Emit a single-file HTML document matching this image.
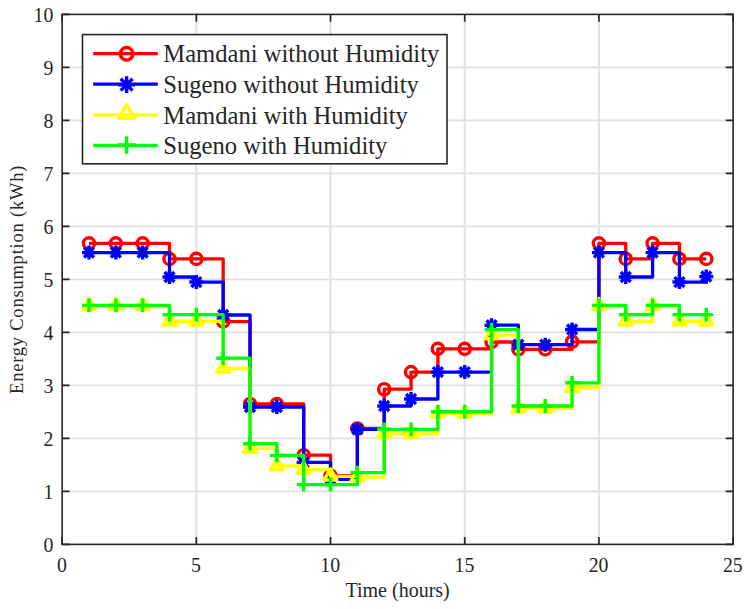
<!DOCTYPE html>
<html><head><meta charset="utf-8"><title>Energy Consumption</title>
<style>html,body{margin:0;padding:0;background:#fff;}body{width:749px;height:609px;overflow:hidden;}svg{display:block;}text{font-family:"Liberation Serif",serif;fill:#262626;}</style>
</head><body>
<svg width="749" height="609" viewBox="0 0 749 609">
<rect x="0" y="0" width="749" height="609" fill="#ffffff"/>
<path d="M196.34 14.40V544.40 M330.53 14.40V544.40 M464.72 14.40V544.40 M598.91 14.40V544.40 M62.15 491.40H733.10 M62.15 438.40H733.10 M62.15 385.40H733.10 M62.15 332.40H733.10 M62.15 279.40H733.10 M62.15 226.40H733.10 M62.15 173.40H733.10 M62.15 120.40H733.10 M62.15 67.40H733.10" stroke="#e0e0e0" stroke-width="1.9" fill="none"/>
<g>
<path d="M88.99 243.36 L115.83 243.36 L115.83 243.36 L142.66 243.36 L142.66 243.36 L169.50 243.36 L169.50 258.89 L196.34 258.89 L196.34 258.89 L223.18 258.89 L223.18 321.53 L250.02 321.53 L250.02 404.00 L276.85 404.00 L276.85 404.00 L303.69 404.00 L303.69 455.20 L330.53 455.20 L330.53 475.76 L357.37 475.76 L357.37 428.49 L384.21 428.49 L384.21 389.22 L411.04 389.22 L411.04 372.10 L437.88 372.10 L437.88 348.83 L464.72 348.83 L464.72 348.83 L491.56 348.83 L491.56 341.99 L518.40 341.99 L518.40 349.31 L545.23 349.31 L545.23 349.31 L572.07 349.31 L572.07 341.78 L598.91 341.78 L598.91 243.36 L625.75 243.36 L625.75 258.89 L652.59 258.89 L652.59 243.36 L679.42 243.36 L679.42 258.89 L706.26 258.89 L706.26 258.89" fill="none" stroke="#ff0000" stroke-width="3.30" stroke-linejoin="round"/>
<circle cx="88.99" cy="243.36" r="5.60" fill="none" stroke="#ff0000" stroke-width="3.40"/>
<circle cx="115.83" cy="243.36" r="5.60" fill="none" stroke="#ff0000" stroke-width="3.40"/>
<circle cx="142.66" cy="243.36" r="5.60" fill="none" stroke="#ff0000" stroke-width="3.40"/>
<circle cx="169.50" cy="258.89" r="5.60" fill="none" stroke="#ff0000" stroke-width="3.40"/>
<circle cx="196.34" cy="258.89" r="5.60" fill="none" stroke="#ff0000" stroke-width="3.40"/>
<circle cx="223.18" cy="321.53" r="5.60" fill="none" stroke="#ff0000" stroke-width="3.40"/>
<circle cx="250.02" cy="404.00" r="5.60" fill="none" stroke="#ff0000" stroke-width="3.40"/>
<circle cx="276.85" cy="404.00" r="5.60" fill="none" stroke="#ff0000" stroke-width="3.40"/>
<circle cx="303.69" cy="455.20" r="5.60" fill="none" stroke="#ff0000" stroke-width="3.40"/>
<circle cx="330.53" cy="475.76" r="5.60" fill="none" stroke="#ff0000" stroke-width="3.40"/>
<circle cx="357.37" cy="428.49" r="5.60" fill="none" stroke="#ff0000" stroke-width="3.40"/>
<circle cx="384.21" cy="389.22" r="5.60" fill="none" stroke="#ff0000" stroke-width="3.40"/>
<circle cx="411.04" cy="372.10" r="5.60" fill="none" stroke="#ff0000" stroke-width="3.40"/>
<circle cx="437.88" cy="348.83" r="5.60" fill="none" stroke="#ff0000" stroke-width="3.40"/>
<circle cx="464.72" cy="348.83" r="5.60" fill="none" stroke="#ff0000" stroke-width="3.40"/>
<circle cx="491.56" cy="341.99" r="5.60" fill="none" stroke="#ff0000" stroke-width="3.40"/>
<circle cx="518.40" cy="349.31" r="5.60" fill="none" stroke="#ff0000" stroke-width="3.40"/>
<circle cx="545.23" cy="349.31" r="5.60" fill="none" stroke="#ff0000" stroke-width="3.40"/>
<circle cx="572.07" cy="341.78" r="5.60" fill="none" stroke="#ff0000" stroke-width="3.40"/>
<circle cx="598.91" cy="243.36" r="5.60" fill="none" stroke="#ff0000" stroke-width="3.40"/>
<circle cx="625.75" cy="258.89" r="5.60" fill="none" stroke="#ff0000" stroke-width="3.40"/>
<circle cx="652.59" cy="243.36" r="5.60" fill="none" stroke="#ff0000" stroke-width="3.40"/>
<circle cx="679.42" cy="258.89" r="5.60" fill="none" stroke="#ff0000" stroke-width="3.40"/>
<circle cx="706.26" cy="258.89" r="5.60" fill="none" stroke="#ff0000" stroke-width="3.40"/>
</g>
<g>
<path d="M88.99 252.58 L115.83 252.58 L115.83 252.58 L142.66 252.58 L142.66 252.58 L169.50 252.58 L169.50 277.01 L196.34 277.01 L196.34 282.05 L223.18 282.05 L223.18 315.02 L250.02 315.02 L250.02 407.02 L276.85 407.02 L276.85 407.02 L303.69 407.02 L303.69 462.41 L330.53 462.41 L330.53 479.47 L357.37 479.47 L357.37 429.28 L384.21 429.28 L384.21 406.02 L411.04 406.02 L411.04 399.02 L437.88 399.02 L437.88 372.10 L464.72 372.10 L464.72 372.10 L491.56 372.10 L491.56 325.19 L518.40 325.19 L518.40 344.70 L545.23 344.70 L545.23 344.70 L572.07 344.70 L572.07 329.49 L598.91 329.49 L598.91 252.58 L625.75 252.58 L625.75 277.01 L652.59 277.01 L652.59 252.58 L679.42 252.58 L679.42 282.05 L706.26 282.05 L706.26 276.49" fill="none" stroke="#0000ff" stroke-width="3.30" stroke-linejoin="round"/>
<path d="M88.99 245.58V259.58 M81.99 252.58H95.99 M84.04 247.63L93.94 257.53 M84.04 257.53L93.94 247.63" fill="none" stroke="#0000ff" stroke-width="3.40"/>
<path d="M115.83 245.58V259.58 M108.83 252.58H122.83 M110.88 247.63L120.78 257.53 M110.88 257.53L120.78 247.63" fill="none" stroke="#0000ff" stroke-width="3.40"/>
<path d="M142.66 245.58V259.58 M135.66 252.58H149.66 M137.71 247.63L147.61 257.53 M137.71 257.53L147.61 247.63" fill="none" stroke="#0000ff" stroke-width="3.40"/>
<path d="M169.50 270.01V284.01 M162.50 277.01H176.50 M164.55 272.07L174.45 281.96 M164.55 281.96L174.45 272.07" fill="none" stroke="#0000ff" stroke-width="3.40"/>
<path d="M196.34 275.05V289.05 M189.34 282.05H203.34 M191.39 277.10L201.29 287.00 M191.39 287.00L201.29 277.10" fill="none" stroke="#0000ff" stroke-width="3.40"/>
<path d="M223.18 308.02V322.02 M216.18 315.02H230.18 M218.23 310.07L228.13 319.97 M218.23 319.97L228.13 310.07" fill="none" stroke="#0000ff" stroke-width="3.40"/>
<path d="M250.02 400.02V414.02 M243.02 407.02H257.02 M245.07 402.07L254.97 411.97 M245.07 411.97L254.97 402.07" fill="none" stroke="#0000ff" stroke-width="3.40"/>
<path d="M276.85 400.02V414.02 M269.85 407.02H283.85 M271.90 402.07L281.80 411.97 M271.90 411.97L281.80 402.07" fill="none" stroke="#0000ff" stroke-width="3.40"/>
<path d="M303.69 455.41V469.41 M296.69 462.41H310.69 M298.74 457.46L308.64 467.36 M298.74 467.36L308.64 457.46" fill="none" stroke="#0000ff" stroke-width="3.40"/>
<path d="M330.53 472.47V486.47 M323.53 479.47H337.53 M325.58 474.53L335.48 484.42 M325.58 484.42L335.48 474.53" fill="none" stroke="#0000ff" stroke-width="3.40"/>
<path d="M357.37 422.28V436.28 M350.37 429.28H364.37 M352.42 424.33L362.32 434.23 M352.42 434.23L362.32 424.33" fill="none" stroke="#0000ff" stroke-width="3.40"/>
<path d="M384.21 399.02V413.02 M377.21 406.02H391.21 M379.26 401.07L389.16 410.97 M379.26 410.97L389.16 401.07" fill="none" stroke="#0000ff" stroke-width="3.40"/>
<path d="M411.04 392.02V406.02 M404.04 399.02H418.04 M406.09 394.07L415.99 403.97 M406.09 403.97L415.99 394.07" fill="none" stroke="#0000ff" stroke-width="3.40"/>
<path d="M437.88 365.10V379.10 M430.88 372.10H444.88 M432.93 367.15L442.83 377.05 M432.93 377.05L442.83 367.15" fill="none" stroke="#0000ff" stroke-width="3.40"/>
<path d="M464.72 365.10V379.10 M457.72 372.10H471.72 M459.77 367.15L469.67 377.05 M459.77 377.05L469.67 367.15" fill="none" stroke="#0000ff" stroke-width="3.40"/>
<path d="M491.56 318.19V332.19 M484.56 325.19H498.56 M486.61 320.24L496.51 330.14 M486.61 330.14L496.51 320.24" fill="none" stroke="#0000ff" stroke-width="3.40"/>
<path d="M518.40 337.70V351.70 M511.40 344.70H525.40 M513.45 339.75L523.35 349.65 M513.45 349.65L523.35 339.75" fill="none" stroke="#0000ff" stroke-width="3.40"/>
<path d="M545.23 337.70V351.70 M538.23 344.70H552.23 M540.28 339.75L550.18 349.65 M540.28 349.65L550.18 339.75" fill="none" stroke="#0000ff" stroke-width="3.40"/>
<path d="M572.07 322.49V336.49 M565.07 329.49H579.07 M567.12 324.54L577.02 334.43 M567.12 334.43L577.02 324.54" fill="none" stroke="#0000ff" stroke-width="3.40"/>
<path d="M598.91 245.58V259.58 M591.91 252.58H605.91 M593.96 247.63L603.86 257.53 M593.96 257.53L603.86 247.63" fill="none" stroke="#0000ff" stroke-width="3.40"/>
<path d="M625.75 270.01V284.01 M618.75 277.01H632.75 M620.80 272.07L630.70 281.96 M620.80 281.96L630.70 272.07" fill="none" stroke="#0000ff" stroke-width="3.40"/>
<path d="M652.59 245.58V259.58 M645.59 252.58H659.59 M647.64 247.63L657.54 257.53 M647.64 257.53L657.54 247.63" fill="none" stroke="#0000ff" stroke-width="3.40"/>
<path d="M679.42 275.05V289.05 M672.42 282.05H686.42 M674.47 277.10L684.37 287.00 M674.47 287.00L684.37 277.10" fill="none" stroke="#0000ff" stroke-width="3.40"/>
<path d="M706.26 269.49V283.49 M699.26 276.49H713.26 M701.31 271.54L711.21 281.43 M701.31 281.43L711.21 271.54" fill="none" stroke="#0000ff" stroke-width="3.40"/>
</g>
<g>
<path d="M88.99 305.90 L115.83 305.90 L115.83 305.90 L142.66 305.90 L142.66 305.90 L169.50 305.90 L169.50 321.27 L196.34 321.27 L196.34 321.27 L223.18 321.27 L223.18 368.49 L250.02 368.49 L250.02 448.47 L276.85 448.47 L276.85 466.01 L303.69 466.01 L303.69 469.72 L330.53 469.72 L330.53 476.29 L357.37 476.29 L357.37 477.09 L384.21 477.09 L384.21 434.00 L411.04 434.00 L411.04 434.00 L437.88 434.00 L437.88 413.49 L464.72 413.49 L464.72 413.49 L491.56 413.49 L491.56 335.05 L518.40 335.05 L518.40 408.40 L545.23 408.40 L545.23 408.40 L572.07 408.40 L572.07 387.68 L598.91 387.68 L598.91 305.90 L625.75 305.90 L625.75 321.27 L652.59 321.27 L652.59 305.90 L679.42 305.90 L679.42 321.27 L706.26 321.27 L706.26 321.27" fill="none" stroke="#ffff00" stroke-width="3.30" stroke-linejoin="round"/>
<path d="M88.99 298.57L95.34 309.57L82.64 309.57Z" fill="none" stroke="#ffff00" stroke-width="3.40" stroke-linejoin="round"/>
<path d="M115.83 298.57L122.18 309.57L109.47 309.57Z" fill="none" stroke="#ffff00" stroke-width="3.40" stroke-linejoin="round"/>
<path d="M142.66 298.57L149.02 309.57L136.31 309.57Z" fill="none" stroke="#ffff00" stroke-width="3.40" stroke-linejoin="round"/>
<path d="M169.50 313.94L175.85 324.94L163.15 324.94Z" fill="none" stroke="#ffff00" stroke-width="3.40" stroke-linejoin="round"/>
<path d="M196.34 313.94L202.69 324.94L189.99 324.94Z" fill="none" stroke="#ffff00" stroke-width="3.40" stroke-linejoin="round"/>
<path d="M223.18 361.16L229.53 372.16L216.83 372.16Z" fill="none" stroke="#ffff00" stroke-width="3.40" stroke-linejoin="round"/>
<path d="M250.02 441.14L256.37 452.14L243.66 452.14Z" fill="none" stroke="#ffff00" stroke-width="3.40" stroke-linejoin="round"/>
<path d="M276.85 458.68L283.21 469.68L270.50 469.68Z" fill="none" stroke="#ffff00" stroke-width="3.40" stroke-linejoin="round"/>
<path d="M303.69 462.39L310.04 473.39L297.34 473.39Z" fill="none" stroke="#ffff00" stroke-width="3.40" stroke-linejoin="round"/>
<path d="M330.53 468.96L336.88 479.96L324.18 479.96Z" fill="none" stroke="#ffff00" stroke-width="3.40" stroke-linejoin="round"/>
<path d="M357.37 469.76L363.72 480.76L351.02 480.76Z" fill="none" stroke="#ffff00" stroke-width="3.40" stroke-linejoin="round"/>
<path d="M384.21 426.67L390.56 437.67L377.85 437.67Z" fill="none" stroke="#ffff00" stroke-width="3.40" stroke-linejoin="round"/>
<path d="M411.04 426.67L417.40 437.67L404.69 437.67Z" fill="none" stroke="#ffff00" stroke-width="3.40" stroke-linejoin="round"/>
<path d="M437.88 406.16L444.23 417.16L431.53 417.16Z" fill="none" stroke="#ffff00" stroke-width="3.40" stroke-linejoin="round"/>
<path d="M464.72 406.16L471.07 417.16L458.37 417.16Z" fill="none" stroke="#ffff00" stroke-width="3.40" stroke-linejoin="round"/>
<path d="M491.56 327.72L497.91 338.72L485.21 338.72Z" fill="none" stroke="#ffff00" stroke-width="3.40" stroke-linejoin="round"/>
<path d="M518.40 401.07L524.75 412.07L512.04 412.07Z" fill="none" stroke="#ffff00" stroke-width="3.40" stroke-linejoin="round"/>
<path d="M545.23 401.07L551.59 412.07L538.88 412.07Z" fill="none" stroke="#ffff00" stroke-width="3.40" stroke-linejoin="round"/>
<path d="M572.07 380.35L578.42 391.35L565.72 391.35Z" fill="none" stroke="#ffff00" stroke-width="3.40" stroke-linejoin="round"/>
<path d="M598.91 298.57L605.26 309.57L592.56 309.57Z" fill="none" stroke="#ffff00" stroke-width="3.40" stroke-linejoin="round"/>
<path d="M625.75 313.94L632.10 324.94L619.40 324.94Z" fill="none" stroke="#ffff00" stroke-width="3.40" stroke-linejoin="round"/>
<path d="M652.59 298.57L658.94 309.57L646.23 309.57Z" fill="none" stroke="#ffff00" stroke-width="3.40" stroke-linejoin="round"/>
<path d="M679.42 313.94L685.78 324.94L673.07 324.94Z" fill="none" stroke="#ffff00" stroke-width="3.40" stroke-linejoin="round"/>
<path d="M706.26 313.94L712.61 324.94L699.91 324.94Z" fill="none" stroke="#ffff00" stroke-width="3.40" stroke-linejoin="round"/>
</g>
<g>
<path d="M88.99 305.37 L115.83 305.37 L115.83 305.37 L142.66 305.37 L142.66 305.37 L169.50 305.37 L169.50 314.59 L196.34 314.59 L196.34 314.59 L223.18 314.59 L223.18 358.21 L250.02 358.21 L250.02 443.70 L276.85 443.70 L276.85 455.41 L303.69 455.41 L303.69 484.62 L330.53 484.62 L330.53 484.62 L357.37 484.62 L357.37 472.58 L384.21 472.58 L384.21 429.28 L411.04 429.28 L411.04 429.28 L437.88 429.28 L437.88 411.74 L464.72 411.74 L464.72 411.74 L491.56 411.74 L491.56 329.59 L518.40 329.59 L518.40 406.02 L545.23 406.02 L545.23 406.02 L572.07 406.02 L572.07 382.80 L598.91 382.80 L598.91 305.37 L625.75 305.37 L625.75 314.59 L652.59 314.59 L652.59 305.37 L679.42 305.37 L679.42 314.59 L706.26 314.59 L706.26 314.59" fill="none" stroke="#00ff00" stroke-width="3.30" stroke-linejoin="round"/>
<path d="M88.99 298.47V312.27 M82.09 305.37H95.89" fill="none" stroke="#00ff00" stroke-width="3.40"/>
<path d="M115.83 298.47V312.27 M108.93 305.37H122.73" fill="none" stroke="#00ff00" stroke-width="3.40"/>
<path d="M142.66 298.47V312.27 M135.76 305.37H149.56" fill="none" stroke="#00ff00" stroke-width="3.40"/>
<path d="M169.50 307.69V321.49 M162.60 314.59H176.40" fill="none" stroke="#00ff00" stroke-width="3.40"/>
<path d="M196.34 307.69V321.49 M189.44 314.59H203.24" fill="none" stroke="#00ff00" stroke-width="3.40"/>
<path d="M223.18 351.31V365.11 M216.28 358.21H230.08" fill="none" stroke="#00ff00" stroke-width="3.40"/>
<path d="M250.02 436.80V450.60 M243.12 443.70H256.92" fill="none" stroke="#00ff00" stroke-width="3.40"/>
<path d="M276.85 448.51V462.31 M269.95 455.41H283.75" fill="none" stroke="#00ff00" stroke-width="3.40"/>
<path d="M303.69 477.72V491.52 M296.79 484.62H310.59" fill="none" stroke="#00ff00" stroke-width="3.40"/>
<path d="M330.53 477.72V491.52 M323.63 484.62H337.43" fill="none" stroke="#00ff00" stroke-width="3.40"/>
<path d="M357.37 465.69V479.48 M350.47 472.58H364.27" fill="none" stroke="#00ff00" stroke-width="3.40"/>
<path d="M384.21 422.38V436.18 M377.31 429.28H391.11" fill="none" stroke="#00ff00" stroke-width="3.40"/>
<path d="M411.04 422.38V436.18 M404.14 429.28H417.94" fill="none" stroke="#00ff00" stroke-width="3.40"/>
<path d="M437.88 404.84V418.64 M430.98 411.74H444.78" fill="none" stroke="#00ff00" stroke-width="3.40"/>
<path d="M464.72 404.84V418.64 M457.82 411.74H471.62" fill="none" stroke="#00ff00" stroke-width="3.40"/>
<path d="M491.56 322.69V336.49 M484.66 329.59H498.46" fill="none" stroke="#00ff00" stroke-width="3.40"/>
<path d="M518.40 399.12V412.92 M511.50 406.02H525.30" fill="none" stroke="#00ff00" stroke-width="3.40"/>
<path d="M545.23 399.12V412.92 M538.33 406.02H552.13" fill="none" stroke="#00ff00" stroke-width="3.40"/>
<path d="M572.07 375.90V389.70 M565.17 382.80H578.97" fill="none" stroke="#00ff00" stroke-width="3.40"/>
<path d="M598.91 298.47V312.27 M592.01 305.37H605.81" fill="none" stroke="#00ff00" stroke-width="3.40"/>
<path d="M625.75 307.69V321.49 M618.85 314.59H632.65" fill="none" stroke="#00ff00" stroke-width="3.40"/>
<path d="M652.59 298.47V312.27 M645.69 305.37H659.49" fill="none" stroke="#00ff00" stroke-width="3.40"/>
<path d="M679.42 307.69V321.49 M672.52 314.59H686.32" fill="none" stroke="#00ff00" stroke-width="3.40"/>
<path d="M706.26 307.69V321.49 M699.36 314.59H713.16" fill="none" stroke="#00ff00" stroke-width="3.40"/>
</g>
<path d="M62.15 544.40V537.00 M62.15 14.40V21.80 M196.34 544.40V537.00 M196.34 14.40V21.80 M330.53 544.40V537.00 M330.53 14.40V21.80 M464.72 544.40V537.00 M464.72 14.40V21.80 M598.91 544.40V537.00 M598.91 14.40V21.80 M733.10 544.40V537.00 M733.10 14.40V21.80 M62.15 544.40H69.55 M733.10 544.40H725.70 M62.15 491.40H69.55 M733.10 491.40H725.70 M62.15 438.40H69.55 M733.10 438.40H725.70 M62.15 385.40H69.55 M733.10 385.40H725.70 M62.15 332.40H69.55 M733.10 332.40H725.70 M62.15 279.40H69.55 M733.10 279.40H725.70 M62.15 226.40H69.55 M733.10 226.40H725.70 M62.15 173.40H69.55 M733.10 173.40H725.70 M62.15 120.40H69.55 M733.10 120.40H725.70 M62.15 67.40H69.55 M733.10 67.40H725.70 M62.15 14.40H69.55 M733.10 14.40H725.70" stroke="#262626" stroke-width="1.7" fill="none"/>
<rect x="62.15" y="14.40" width="670.95" height="530.00" fill="none" stroke="#262626" stroke-width="1.6"/>
<text transform="translate(61.85 571.8) scale(1 1.1)" font-size="19.8" text-anchor="middle">0</text>
<text transform="translate(196.04 571.8) scale(1 1.1)" font-size="19.8" text-anchor="middle">5</text>
<text transform="translate(330.23 571.8) scale(1 1.1)" font-size="19.8" text-anchor="middle">10</text>
<text transform="translate(464.42 571.8) scale(1 1.1)" font-size="19.8" text-anchor="middle">15</text>
<text transform="translate(598.61 571.8) scale(1 1.1)" font-size="19.8" text-anchor="middle">20</text>
<text transform="translate(732.80 571.8) scale(1 1.1)" font-size="19.8" text-anchor="middle">25</text>
<text transform="translate(53.3 551.70) scale(1 1.1)" font-size="19.8" text-anchor="end">0</text>
<text transform="translate(53.3 498.70) scale(1 1.1)" font-size="19.8" text-anchor="end">1</text>
<text transform="translate(53.3 445.70) scale(1 1.1)" font-size="19.8" text-anchor="end">2</text>
<text transform="translate(53.3 392.70) scale(1 1.1)" font-size="19.8" text-anchor="end">3</text>
<text transform="translate(53.3 339.70) scale(1 1.1)" font-size="19.8" text-anchor="end">4</text>
<text transform="translate(53.3 286.70) scale(1 1.1)" font-size="19.8" text-anchor="end">5</text>
<text transform="translate(53.3 233.70) scale(1 1.1)" font-size="19.8" text-anchor="end">6</text>
<text transform="translate(53.3 180.70) scale(1 1.1)" font-size="19.8" text-anchor="end">7</text>
<text transform="translate(53.3 127.70) scale(1 1.1)" font-size="19.8" text-anchor="end">8</text>
<text transform="translate(53.3 74.70) scale(1 1.1)" font-size="19.8" text-anchor="end">9</text>
<text transform="translate(53.3 21.70) scale(1 1.1)" font-size="19.8" text-anchor="end">10</text>
<text x="397.62" y="596.7" font-size="20" text-anchor="middle">Time (hours)</text>
<text transform="translate(22.5 279.40) rotate(-90)" font-size="18.5" letter-spacing="0.78" text-anchor="middle">Energy Consumption (kWh)</text>
<rect x="82.50" y="34.60" width="364.50" height="129.20" fill="#ffffff" stroke="#262626" stroke-width="1.6"/>
<path d="M93.2 53.60H157.8" stroke="#ff0000" stroke-width="3.30" fill="none"/>
<circle cx="126.60" cy="53.80" r="6.30" fill="none" stroke="#ff0000" stroke-width="3.40"/>
<text x="163.3" y="62.30" font-size="24.6" fill="#000000">Mamdani without Humidity</text>
<path d="M93.2 84.20H157.8" stroke="#0000ff" stroke-width="3.30" fill="none"/>
<path d="M126.60 76.30V93.10 M118.20 84.70H135.00 M120.66 78.76L132.54 90.64 M120.66 90.64L132.54 78.76" fill="none" stroke="#0000ff" stroke-width="3.40"/>
<text x="163.3" y="92.90" font-size="24.6" fill="#000000">Sugeno without Humidity</text>
<path d="M93.2 114.80H157.8" stroke="#ffff00" stroke-width="3.30" fill="none"/>
<path d="M126.60 104.60L134.57 118.40L118.63 118.40Z" fill="none" stroke="#ffff00" stroke-width="3.40" stroke-linejoin="round"/>
<text x="163.3" y="123.50" font-size="24.6" fill="#000000">Mamdani with Humidity</text>
<path d="M93.2 145.40H157.8" stroke="#00ff00" stroke-width="3.30" fill="none"/>
<path d="M126.60 136.25V153.75 M117.85 145.00H135.35" fill="none" stroke="#00ff00" stroke-width="3.40"/>
<text x="163.3" y="154.10" font-size="24.6" fill="#000000">Sugeno with Humidity</text>
</svg>
</body></html>
